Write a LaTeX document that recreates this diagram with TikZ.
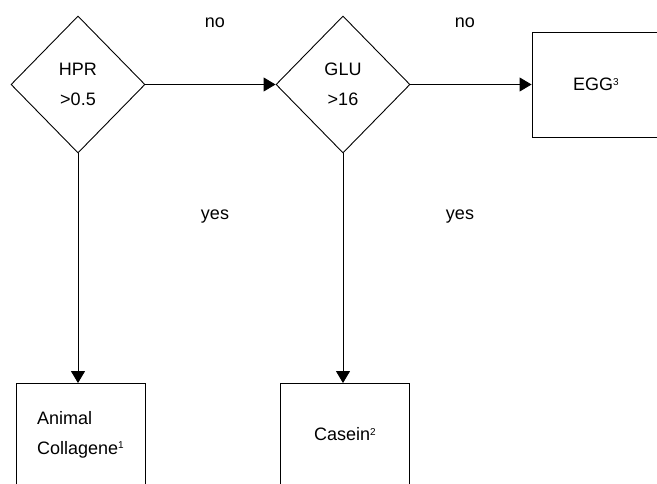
\documentclass[tikz,border=0pt]{standalone}
\usepackage{fontspec}
\setmainfont{Liberation Sans}
\usepackage{tikz}
\usetikzlibrary{shapes.geometric, arrows.meta}
\tikzstyle{decision} = [diamond, minimum width=134pt, minimum height=137pt, inner sep=0pt, align=center, draw=black, line width=0.9pt]
\tikzstyle{result} = [rectangle, minimum width=129pt, minimum height=102pt, align=left, draw=black, line width=0.9pt]
\tikzstyle{answer} = [inner sep=0pt]
\tikzstyle{arrow} = [line width=0.9pt,-{Triangle[length=12pt,width=14pt]}]
\newcommand{\fnote}[1]{\raisebox{5.5pt}{\fontsize{10}{10}\selectfont #1}}

\begin{document}
\begin{tikzpicture}[x=1pt, y=1pt, node distance=265pt, font=\fontsize{18}{30}\selectfont]
\useasboundingbox (0,0) rectangle (657,483);
\clip (0,0) rectangle (657,483);

% Nodes
\node (hpr) [decision] at (78,398.5) {HPR\\>0.5};
\node (glu) [decision, right of=hpr] {GLU\\>16};
\node (egg) [result, right of=glu, xshift=-12pt, minimum width=128pt, minimum height=105pt] {EGG\fnote{3}};
\node (coll) [result, below of=hpr, yshift=-85pt, xshift=2.5pt] {Animal\\Collagene\fnote{1}};
\node (cas) [result, below of=glu, yshift=-85pt, xshift=2pt] {Casein\fnote{2}};

% Labels
\node (no1) [answer] at (215,460.5) {no};
\node (no2) [answer] at (465,460.5) {no};
\node (yes1) [answer] at (215,266) {yes};
\node (yes2) [answer] at (460,266) {yes};

% Arrows
\draw [arrow] (hpr.east) -- (glu.west);
\draw [arrow] (glu.east) -- (egg.west);
\draw [arrow] (hpr.south) -- (hpr.south |- coll.north);
\draw [arrow] (glu.south) -- (glu.south |- cas.north);

\end{tikzpicture}
\end{document}
